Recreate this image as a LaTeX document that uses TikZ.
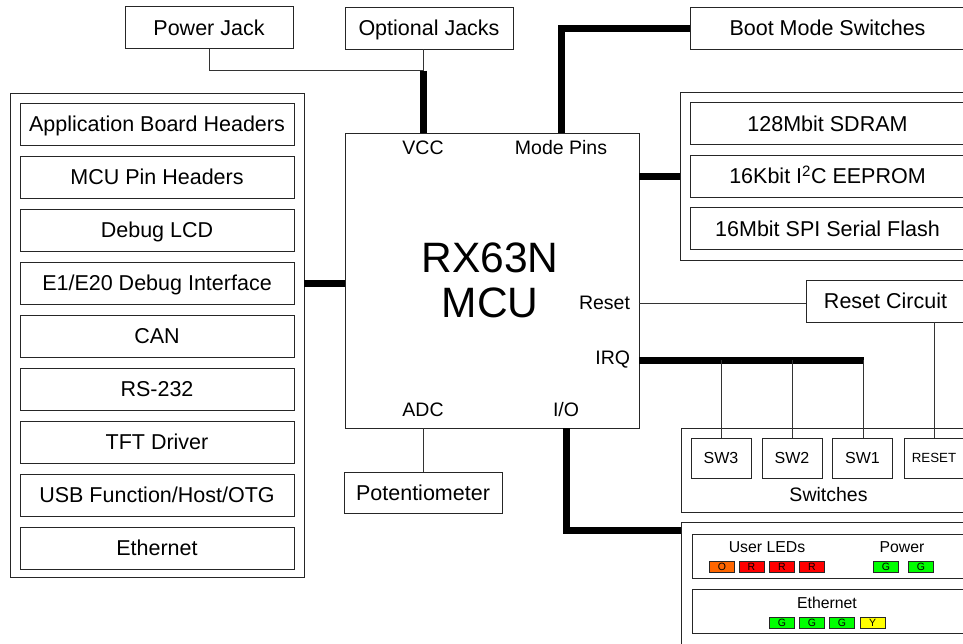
\documentclass[tikz,border=0pt]{standalone}
\usepackage{fontspec}
\setmainfont{Liberation Sans}
\usetikzlibrary{positioning}
\definecolor{ledorange}{HTML}{FF6600}
\definecolor{ledred}{HTML}{FF0000}
\definecolor{ledgreen}{HTML}{00FF00}
\definecolor{ledyellow}{HTML}{FFFF00}
\begin{document}
\begin{tikzpicture}[x=1pt, y=-1pt, node distance=11pt,
      every node/.style={inner sep=0pt, outer sep=0pt},
      box/.style={draw=black!85, line width=1pt, fill=white, minimum height=42pt, text height=15.5pt, text depth=0pt, font=\fontsize{21.5}{24}\selectfont},
      group/.style={draw=black!85, line width=1pt},
      pin/.style={font=\fontsize{19.5}{22}\selectfont},
      swbox/.style={draw=black!85, line width=1pt, minimum width=60pt, minimum height=40pt, text height=11.5pt, text depth=0pt, font=\fontsize{16}{18}\selectfont},
      led/.style={draw=black!85, line width=0.8pt, minimum width=25pt, minimum height=11pt, text height=7.5pt, text depth=0pt, font=\fontsize{10.5}{10.5}\selectfont},
      ledtitle/.style={font=\fontsize{15.8}{18}\selectfont},
      bus/.style={line width=7pt},
      wire/.style={line width=1pt, black!80}]
      \useasboundingbox (0,0) rectangle (963,643);

      % Top boxes
      \node[box, minimum width=168pt] (pwrjack) at (209,27.5) {Power Jack};
      \node[box, minimum width=168pt] (optjacks) at (429,28) {Optional Jacks};
      \node[box, minimum width=275pt] (bootsw) at (827.5,28) {Boot Mode Switches};

      % MCU
      \node[group, minimum width=294pt, minimum height=295pt] (mcu) at (492,280.5) {};
      \node[align=center, font=\fontsize{42.5}{45}\selectfont] (mcuname) at (490,280) {RX63N\\MCU};
      \node[pin] (vcc) at (423,148) {VCC};
      \node[pin] (modepins) at (561,148) {Mode Pins};
      \node[pin, anchor=east] (resetpin) at (630,303) {Reset};
      \node[pin, anchor=east] (irq) at (630,360) {IRQ};
      \node[pin] (adc) at (423,410) {ADC};
      \node[pin] (io) at (566,410) {I/O};

      % Left group
      \node[group, minimum width=294pt, minimum height=484pt] (leftgrp) at (157,335) {};
      \node[box, minimum width=274pt] (appheaders) at (157,124) {Application Board Headers};
      \node[box, minimum width=274pt, below=of appheaders] (pinheaders) {MCU Pin Headers};
      \node[box, minimum width=274pt, below=of pinheaders] (lcd) {Debug LCD};
      \node[box, minimum width=274pt, below=of lcd] (e1e20) {E1/E20 Debug Interface};
      \node[box, minimum width=274pt, below=of e1e20] (can) {CAN};
      \node[box, minimum width=274pt, below=of can] (rs232) {RS-232};
      \node[box, minimum width=274pt, below=of rs232] (tft) {TFT Driver};
      \node[box, minimum width=274pt, below=of tft] (usb) {USB Function/Host/OTG};
      \node[box, minimum width=274pt, below=of usb] (ether) {Ethernet};

      % Memory group
      \node[group, minimum width=295pt, minimum height=168pt] (memgrp) at (827.5,176) {};
      \node[box, minimum width=275pt] (sdram) at (827.5,123.5) {128Mbit SDRAM};
      \node[box, minimum width=275pt, below=10.5pt of sdram] (eeprom) {16Kbit I\textsuperscript{2}C EEPROM};
      \node[box, minimum width=275pt, below=10.5pt of eeprom] (flash) {16Mbit SPI Serial Flash};

      % Reset circuit and switches
      \node[box, minimum width=159pt] (resetc) at (885.5,301) {Reset Circuit};
      \node[group, minimum width=294pt, minimum height=84pt] (swgrp) at (828,470) {};
      \node[swbox] (sw3) at (721,458) {SW3};
      \node[swbox] (sw2) at (792,458) {SW2};
      \node[swbox] (sw1) at (862.5,458) {SW1};
      \node[swbox, font=\fontsize{13.3}{15}\selectfont, text height=9.5pt] (resetsw) at (934,458) {RESET};
      \node[pin] (swlbl) at (828.5,495) {Switches};

      % Potentiometer
      \node[box, minimum width=158pt, minimum height=41pt] (pot) at (423,492.5) {Potentiometer};

      % LED group
      \node[group, minimum width=294pt, minimum height=136pt] (ledgrp) at (828,590) {};
      \node[group, minimum width=273pt, minimum height=44pt] (userleds) at (828.5,556) {};
      \node[group, minimum width=273pt, minimum height=44pt] (ethleds) at (828.5,611) {};
      \node[ledtitle] (userlbl) at (767,547) {User LEDs};
      \node[ledtitle] (powerlbl) at (902,547) {Power};
      \node[ledtitle] (ethlbl) at (827,603) {Ethernet};
      \node[led, fill=ledorange] (led1) at (722,566.5) {O};
      \node[led, fill=ledred] (led2) at (751.5,566.5) {R};
      \node[led, fill=ledred] (led3) at (782,566.5) {R};
      \node[led, fill=ledred] (led4) at (812,566.5) {R};
      \node[led, fill=ledgreen] (pled1) at (886,566.5) {G};
      \node[led, fill=ledgreen] (pled2) at (921,566.5) {G};
      \node[led, fill=ledgreen] (eled1) at (782,623) {G};
      \node[led, fill=ledgreen] (eled2) at (812,623) {G};
      \node[led, fill=ledgreen] (eled3) at (842,623) {G};
      \node[led, fill=ledyellow] (eled4) at (872.5,623) {Y};

      % Connect blocks to the MCU
      \coordinate (vccjn) at (423,70.5);
      \draw[wire] (pwrjack.south) |- (vccjn);
      \draw[wire] (vccjn |- optjacks.south) -- (vccjn);
      \draw[bus] (vccjn) -- (vccjn |- mcu.north);
      \draw[bus] (mcu.north -| modepins) |- (bootsw.west);
      \draw[bus] (mcu.east |- memgrp) -- (memgrp.west);
      \draw[bus] (leftgrp.east |- e1e20) -- (e1e20 -| mcu.west);
      \draw[wire] (mcu.east |- resetpin) -- (resetpin -| resetc.west);
      \draw[bus] (mcu.east |- irq) -- ([xshift=1.5pt]irq -| sw1);
      \draw[wire] (sw3 |- irq) -- (sw3.north);
      \draw[wire] (sw2 |- irq) -- (sw2.north);
      \draw[wire] ([xshift=1pt]sw1 |- irq) -- ([xshift=1pt]sw1.north);
      \draw[wire] (resetc.south -| resetsw) -- (resetsw.north);
      \draw[wire] (mcu.south -| adc) -- (pot.north);
      \draw[bus] (mcu.south -| io) |- ([yshift=-8pt]ledgrp.north west);
    \end{tikzpicture}
\end{document}
